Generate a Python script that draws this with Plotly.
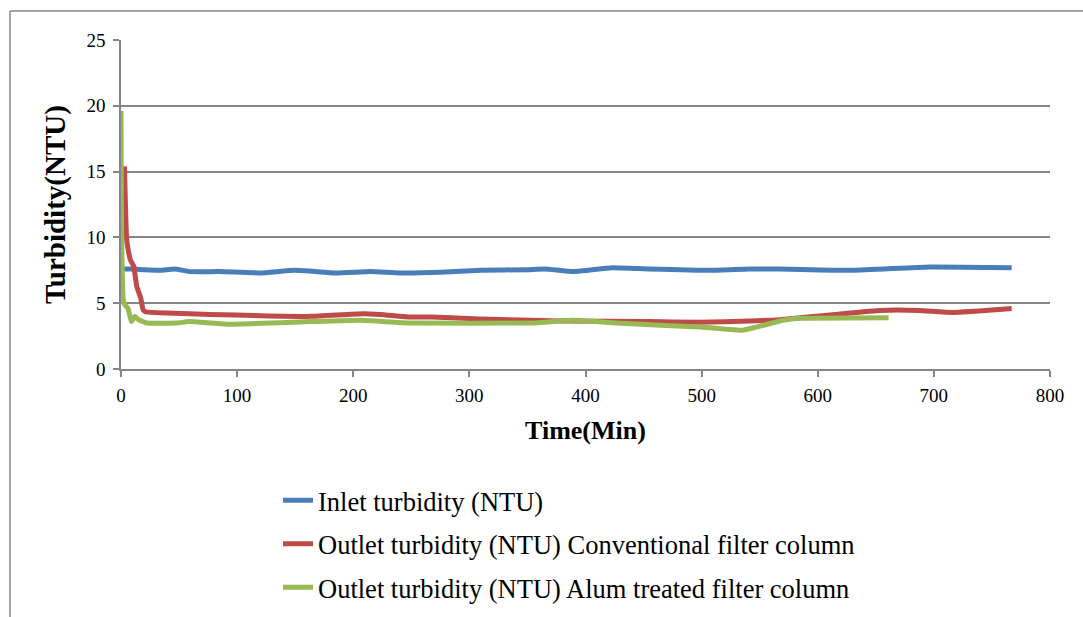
import plotly.graph_objects as go

# Time (min) and turbidity (NTU) values
t_inlet = [1, 10, 20, 34, 46, 60, 85, 120, 150, 185, 215, 240, 275, 310, 350, 365, 390, 423, 455, 509, 541, 567, 630, 696, 767]
inlet = [7.6, 7.6, 7.55, 7.5, 7.6, 7.4, 7.4, 7.3, 7.5, 7.3, 7.4, 7.3, 7.35, 7.5, 7.55, 7.6, 7.4, 7.7, 7.6, 7.5, 7.6, 7.6, 7.5, 7.75, 7.7]

t_conv = [3, 5, 8, 11, 13.5, 17, 19, 21, 40, 77, 120, 163, 208, 223, 249, 268, 309, 380, 455, 498, 541, 567, 598, 653, 687, 716, 767]
conv = [15.4, 9.7, 8.3, 7.8, 6.3, 5.4, 4.5, 4.35, 4.25, 4.15, 4.05, 4.0, 4.2, 4.15, 3.95, 3.95, 3.8, 3.65, 3.6, 3.55, 3.65, 3.75, 4.0, 4.45, 4.45, 4.3, 4.6]

t_alum = [0, 2.5, 6, 9, 12, 15, 19, 22, 48, 59, 91, 163, 206, 249, 354, 389, 426, 469, 498, 535, 570, 584, 661]
alum = [19.6, 5.0, 4.6, 3.6, 4.0, 3.75, 3.6, 3.5, 3.5, 3.6, 3.4, 3.6, 3.7, 3.5, 3.5, 3.7, 3.5, 3.3, 3.2, 2.95, 3.7, 3.85, 3.9]

names = ["Inlet turbidity (NTU)",
         "Outlet turbidity (NTU) Conventional filter column",
         "Outlet turbidity (NTU) Alum treated filter column"]
colors = ["#4A7EBB", "#BE4B48", "#98B954"]

FONT = "Liberation Serif"

fig = go.Figure()
for i, (x, y) in enumerate([(t_inlet, inlet), (t_conv, conv), (t_alum, alum)]):
    fig.add_trace(go.Scatter(
        x=x, y=y, mode="lines", name=names[i], legendgroup=str(i),
        line=dict(color=colors[i], width=5, shape="spline", smoothing=0.4),
    ))

fig.update_layout(
    width=1083, height=617,
    margin=dict(l=121, r=33, t=40, b=248, autoexpand=False),
    paper_bgcolor="white", plot_bgcolor="white",
    font=dict(family=FONT, size=19, color="black"),
    showlegend=True,
    legend=dict(
        x=0.169, y=-0.327, xanchor="left", yanchor="top",
        font=dict(family=FONT, size=26.5, color="black"),
        tracegroupgap=6, bgcolor="rgba(0,0,0,0)",
    ),
    xaxis=dict(
        range=[0, 800], dtick=100, showgrid=False, zeroline=False,
        showline=True, linecolor="#868686", linewidth=1.5,
        ticks="outside", ticklen=6, tickcolor="#868686", tickwidth=1.5,
        ticklabelstandoff=2, automargin=False,
        tickfont=dict(family=FONT, size=19),
        title=dict(text="<b>Time(Min)</b>", font=dict(family=FONT, size=26), standoff=16),
    ),
    yaxis=dict(
        range=[0, 25], dtick=5, showgrid=True, gridcolor="#868686", gridwidth=1.5,
        zeroline=False, showline=True, linecolor="#868686", linewidth=1.5,
        ticks="outside", ticklen=6, tickcolor="#868686", tickwidth=1.5,
        ticklabelstandoff=4, automargin=False,
        tickfont=dict(family=FONT, size=19),
        title=dict(text="<b>Turbidity(NTU)</b>", font=dict(family=FONT, size=29), standoff=12),
    ),
)

# outer chart frame (left and top edges visible)
fig.add_shape(type="line", xref="paper", yref="paper",
              x0=(10 - 121) / 929, x1=1.2, y0=(369 - 11) / 329, y1=(369 - 11) / 329,
              line=dict(color="#868686", width=1.5))
fig.add_shape(type="line", xref="paper", yref="paper",
              x0=(10 - 121) / 929, x1=(10 - 121) / 929, y0=(369 - 11) / 329, y1=-1.0,
              line=dict(color="#868686", width=1.5))

fig.write_html("out.html")
